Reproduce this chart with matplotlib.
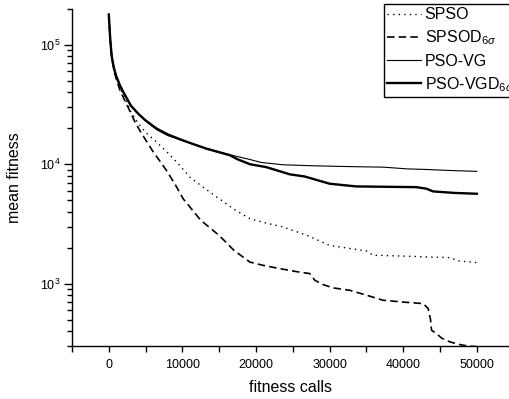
import numpy as np
import matplotlib
matplotlib.use("Agg")
import matplotlib.pyplot as plt
from matplotlib.ticker import MultipleLocator, LogLocator, NullFormatter

plt.rcParams['font.family'] = ['Liberation Sans', 'DejaVu Sans']
plt.rcParams['mathtext.fontset'] = 'custom'
plt.rcParams['mathtext.rm'] = 'Liberation Sans'
plt.rcParams['mathtext.it'] = 'Liberation Sans:italic'

# ---- data ----
spso_x = [0, 100, 200, 400, 700, 1000, 1500, 2000, 3000, 4000, 5000, 6500, 8000, 9500,
          11000, 13000, 15000, 17000, 19160, 21500, 23700, 26900, 30000, 35000, 35900,
          40000, 46300, 47500, 50000]
spso_y = [180000, 140000, 110000, 78000, 62000, 53000, 44000, 38000, 27500, 22000, 18500,
          15300, 12500, 10000, 7800, 6300, 5140, 4200, 3500, 3200, 2980, 2540, 2090, 1875,
          1730, 1700, 1650, 1550, 1500]

spsod_x = [0, 100, 200, 400, 700, 1000, 1500, 2000, 2850, 3500, 4210, 5000, 6000, 7000,
           7830, 9000, 10100, 12500, 15000, 17000, 19160, 21000, 23230, 25500, 27310,
           27990, 29120, 30500, 32740, 35000, 37270, 40000, 42700, 43390, 43700, 43840,
           44520, 45200, 46330, 47500, 48600, 50000]
spsod_y = [180000, 140000, 110000, 78000, 61000, 52000, 42000, 36000, 28000, 23000, 19200,
           16000, 12800, 10500, 8870, 6800, 5140, 3390, 2530, 1900, 1515, 1420, 1335, 1260,
           1213, 1066, 980, 920, 879, 800, 725, 700, 680, 618, 500, 407, 381, 350, 325,
           310, 301, 296]

vg_x = [0, 100, 200, 400, 700, 1000, 1500, 2000, 3000, 4000, 5000, 6500, 8000, 10000,
        12000, 14000, 16500, 18000, 19200, 20700, 23700, 28000, 33000, 37300, 40500,
        43000, 46300, 50000]
vg_y = [180000, 140000, 110000, 80000, 64000, 55000, 46000, 40000, 31000, 26500, 23000,
        19500, 17400, 15800, 14300, 13200, 12000, 11400, 10950, 10350, 9900, 9700, 9550,
        9460, 9150, 9050, 8870, 8720]

vgd_x = [0, 100, 200, 400, 700, 1000, 1500, 2000, 3000, 4000, 5000, 6500, 8000, 10000,
         13270, 16440, 17500, 19200, 21400, 24600, 26600, 30000, 33600, 41800, 43150,
         44050, 47000, 50000]
vgd_y = [180000, 140000, 110000, 80000, 64000, 55000, 46000, 40000, 31000, 26500, 23300,
         19900, 17800, 15900, 13500, 11900, 11000, 10000, 9460, 8230, 7900, 6870, 6520,
         6430, 6240, 5920, 5750, 5660]

labels = ['SPSO', r'SPSOD$_{6\sigma}$', 'PSO-VG', r'PSO-VGD$_{6\sigma}$']

# ---- figure ----
fig = plt.figure(figsize=(5.10, 3.99), dpi=100)
ax = fig.add_axes([72/510, (399-346)/399, (510-72)/510, (346-9)/399])

ax.plot(spso_x, spso_y, color='black', lw=1.0, dashes=(1, 3), label=labels[0])
ax.plot(spsod_x, spsod_y, color='black', lw=1.2, dashes=(4.5, 2.5), label=labels[1])
ax.plot(vg_x, vg_y, color='black', lw=0.8, label=labels[2])
ax.plot(vgd_x, vgd_y, color='black', lw=1.7, label=labels[3])

ax.set_yscale('log')
ax.set_ylim(300, 2e5)
ax.set_xlim(-5000, 54500)

ax.xaxis.set_major_locator(MultipleLocator(10000))
ax.xaxis.set_minor_locator(MultipleLocator(5000))
ax.yaxis.set_major_locator(LogLocator(base=10))
ax.yaxis.set_minor_locator(LogLocator(base=10, subs=np.arange(2, 10)))
ax.yaxis.set_minor_formatter(NullFormatter())

for s in ['top', 'right']:
    ax.spines[s].set_visible(False)
for s in ['left', 'bottom']:
    ax.spines[s].set_linewidth(1.0)

ax.tick_params(axis='both', which='major', direction='out', labelsize=9, width=1.0)
ax.tick_params(axis='y', which='major', length=6, pad=2)
ax.tick_params(axis='y', which='minor', direction='out', length=3.5, width=1.0)
ax.tick_params(axis='x', which='major', length=4, pad=5)
ax.tick_params(axis='x', which='minor', direction='out', length=4, width=1.0)

ax.set_xlabel('fitness calls', fontsize=11.5, labelpad=7)
ax.set_ylabel('mean fitness', fontsize=11.5, labelpad=13)

leg = ax.legend(loc='upper left', bbox_to_anchor=(384/510, 1 - 4/399),
                bbox_transform=fig.transFigure, fontsize=11.5, frameon=True,
                fancybox=False, edgecolor='black', framealpha=1, borderpad=0.2,
                handlelength=2.1, handletextpad=0.25, labelspacing=0.4,
                borderaxespad=0)
leg.get_frame().set_linewidth(1.0)

fig.savefig('out.png', dpi=100)
